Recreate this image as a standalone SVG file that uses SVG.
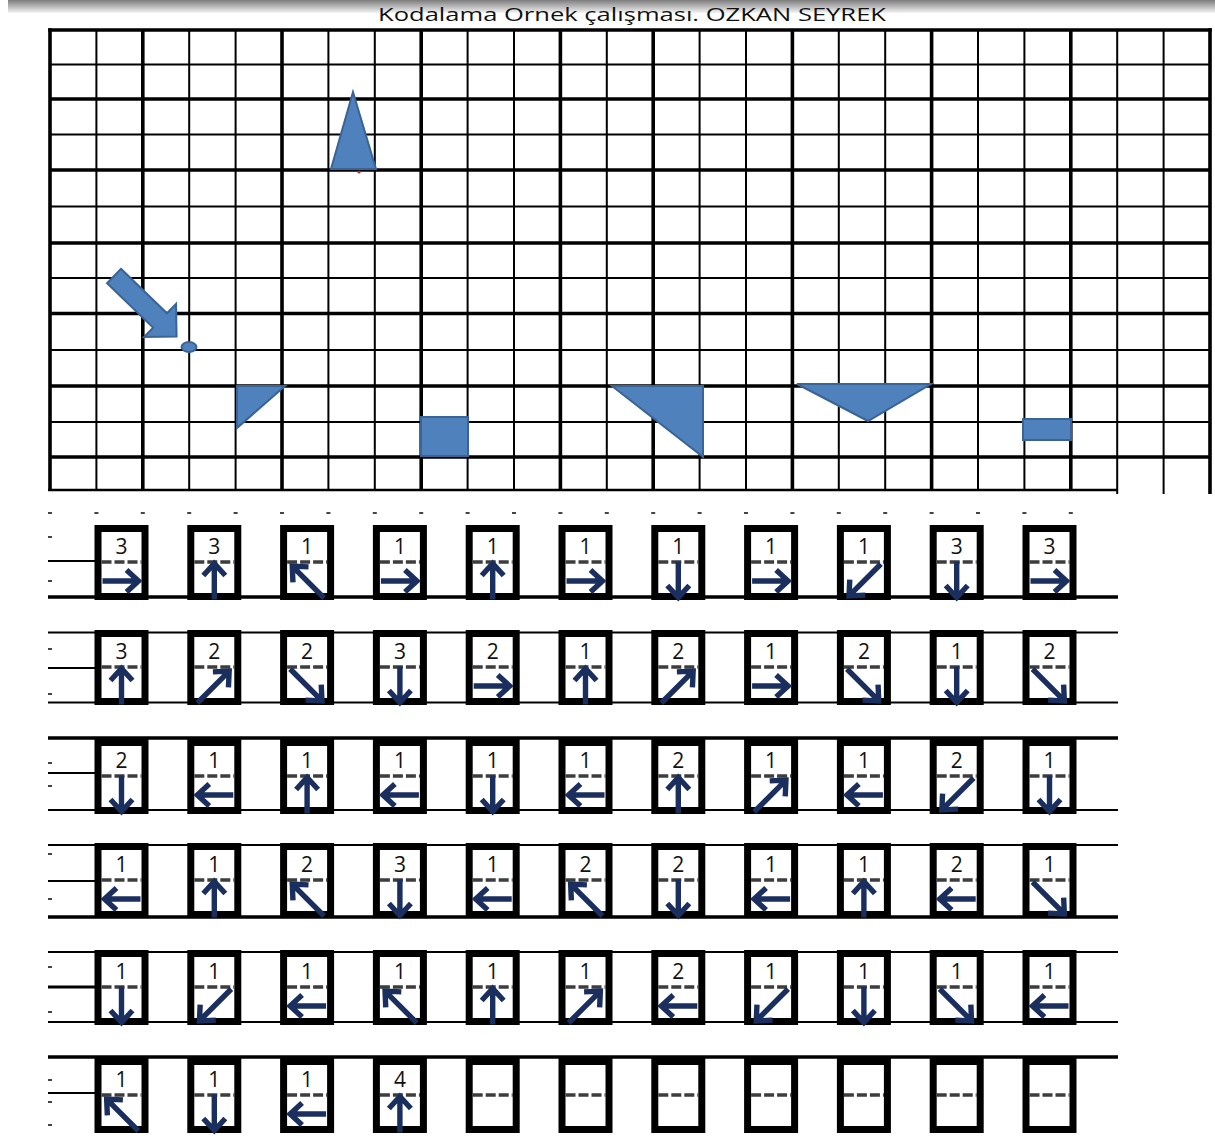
<svg xmlns="http://www.w3.org/2000/svg" xmlns:xlink="http://www.w3.org/1999/xlink" width="1215" height="1138" viewBox="0 0 1215 1138">
<style>
.thin{fill:none;stroke:#000;stroke-width:2}
.thick{fill:none;stroke:#000;stroke-width:3.6}
.shp{fill:#4f81bd;stroke:#3a6396;stroke-width:2;stroke-linejoin:miter}
.a{fill:none;stroke:#1b2f5e;stroke-width:5.4;stroke-linejoin:miter}
.n{font-family:"Open Sans","Liberation Sans",sans-serif;font-size:21px;text-anchor:middle;fill:#111}
.t{font-family:"Open Sans","Liberation Sans",sans-serif;font-size:19px;fill:#111}
.tk{fill:#444}
</style>
<defs>
<linearGradient id="bar" x1="0" y1="0" x2="0" y2="1">
<stop offset="0" stop-color="#7d7d7d"/>
<stop offset="0.5" stop-color="#b8b8b8"/>
<stop offset="1" stop-color="#f4f4f4"/>
</linearGradient>
<g id="bx"><rect x="-23.5" y="3.5" width="47" height="68" fill="#fff" stroke="#000" stroke-width="7"/><line x1="-20" y1="37" x2="20" y2="37" stroke="#3d3d3d" stroke-width="3.5" stroke-dasharray="10 3"/></g>
<path id="as" class="a" d="M-19,0H15M5,-11L17,0L5,11"/>
<path id="ad" class="a" d="M-24,0H20M9,-11L21,0L9,11"/>
</defs>
<rect width="1215" height="1138" fill="#fff"/>
<rect x="8" y="0" width="1207" height="13" fill="url(#bar)"/>
<text class="t" x="378" y="21" textLength="508" lengthAdjust="spacingAndGlyphs">Kodalama Ornek çalışması. OZKAN SEYREK</text>

<g id="grid">
<path class="thin" d="M96.4 30V490M189.2 30V490M235.6 30V490M328.4 30V490M374.8 30V490M467.6 30V490M514 30V490M606.8 30V490M699.6 30V490M746 30V490M838.8 30V490M885.2 30V490M978 30V490M1024.4 30V490M1117.2 30V494M1163.6 30V494"/>
<path class="thick" d="M50 28.2V491M142.8 30V490M282 30V490M421.2 30V490M560.4 30V490M653.2 30V490M792.4 30V490M931.6 30V490M1070.8 30V490M1210 28.2V494"/>
<path class="thin" d="M50 64.5H1210M50 134.5H1210M50 206.5H1210M50 278H1210M50 350H1210M50 422H1210"/>
<path class="thick" d="M48.2 30H1211.8M50 99H1210M50 170H1210M50 243H1210M50 313.5H1210M50 386H1210M50 457H1210"/>
<path fill="none" stroke="#000" stroke-width="2.6" d="M48.2 490H1117.2"/>
</g>

<g id="shapes">
<polygon id="tall-triangle" class="shp" points="353,92 331,169 376,169"/>
<circle cx="359" cy="172" r="1.6" fill="#b03030"/>
<g id="block-arrow" transform="translate(114,276) rotate(44)"><polygon class="shp" points="0,-10 64,-10 64,-23 87,0 64,23 64,10 0,10"/></g>
<ellipse id="dot" class="shp" cx="189" cy="347" rx="7.5" ry="5"/>
<polygon id="small-triangle" class="shp" points="237,386 285,386 237,428"/>
<rect id="square" class="shp" x="421" y="417" width="47" height="39"/>
<polygon id="big-triangle" class="shp" points="612,386 703,386 703,457"/>
<polygon id="wide-triangle" class="shp" points="797,384 931,384 868,421"/>
<rect id="small-rect" class="shp" x="1023" y="419" width="48" height="21" stroke-width="3"/>
</g>

<g id="guides">
<path class="thin" d="M48 561H96M48 668H96M48 773H96M48 881H96M48 1093H96"/>
<path fill="none" stroke="#000" stroke-width="3" d="M48 987H96"/>
<path class="thick" d="M48 597H1118M48 738H1118M48 917H1118M48 1057H1118"/>
<path class="thin" d="M48 632.5H1118M48 702.5H1118M48 810H1118M48 845H1118M48 952H1118M48 1022H1118"/>
<g class="tk">
<rect x="48" y="512" width="4" height="2"/><rect x="94.4" y="512" width="4" height="2"/><rect x="140.8" y="512" width="4" height="2"/><rect x="187.2" y="512" width="4" height="2"/><rect x="233.6" y="512" width="4" height="2"/><rect x="280" y="512" width="4" height="2"/><rect x="326.4" y="512" width="4" height="2"/><rect x="372.8" y="512" width="4" height="2"/><rect x="419.2" y="512" width="4" height="2"/><rect x="465.6" y="512" width="4" height="2"/><rect x="512" y="512" width="4" height="2"/><rect x="558.4" y="512" width="4" height="2"/><rect x="604.8" y="512" width="4" height="2"/><rect x="651.2" y="512" width="4" height="2"/><rect x="697.6" y="512" width="4" height="2"/><rect x="744" y="512" width="4" height="2"/><rect x="790.4" y="512" width="4" height="2"/><rect x="836.8" y="512" width="4" height="2"/><rect x="883.2" y="512" width="4" height="2"/><rect x="929.6" y="512" width="4" height="2"/><rect x="976" y="512" width="4" height="2"/><rect x="1022.4" y="512" width="4" height="2"/><rect x="1068.8" y="512" width="4" height="2"/>
<rect x="48" y="536" width="4" height="2"/><rect x="48" y="580" width="4" height="2"/>
<rect x="48" y="648" width="4" height="2"/><rect x="48" y="693" width="4" height="2"/>
<rect x="48" y="762" width="4" height="2"/><rect x="48" y="785" width="4" height="2"/>
<rect x="48" y="853" width="4" height="2"/><rect x="48" y="898" width="4" height="2"/>
<rect x="48" y="966" width="4" height="2"/><rect x="48" y="1011" width="4" height="2"/>
<rect x="48" y="1079" width="4" height="2"/><rect x="48" y="1101" width="4" height="2"/><rect x="48" y="1124" width="4" height="2"/>
</g>
</g>

<g id="row1">
<g id="r1b1" transform="translate(121.5,525)"><use href="#bx"/><text class="n" y="29">3</text><use href="#as" transform="translate(0,56)"/></g>
<g id="r1b2" transform="translate(214.3,525)"><use href="#bx"/><text class="n" y="29">3</text><use href="#as" transform="translate(0,55.5) rotate(-90)"/></g>
<g id="r1b3" transform="translate(307.1,525)"><use href="#bx"/><text class="n" y="29">1</text><use href="#ad" transform="translate(0,56) rotate(-135)"/></g>
<g id="r1b4" transform="translate(399.9,525)"><use href="#bx"/><text class="n" y="29">1</text><use href="#as" transform="translate(0,56)"/></g>
<g id="r1b5" transform="translate(492.7,525)"><use href="#bx"/><text class="n" y="29">1</text><use href="#as" transform="translate(0,55.5) rotate(-90)"/></g>
<g id="r1b6" transform="translate(585.5,525)"><use href="#bx"/><text class="n" y="29">1</text><use href="#as" transform="translate(0,56)"/></g>
<g id="r1b7" transform="translate(678.3,525)"><use href="#bx"/><text class="n" y="29">1</text><use href="#as" transform="translate(0,55.5) rotate(90)"/></g>
<g id="r1b8" transform="translate(771.1,525)"><use href="#bx"/><text class="n" y="29">1</text><use href="#as" transform="translate(0,56)"/></g>
<g id="r1b9" transform="translate(863.9,525)"><use href="#bx"/><text class="n" y="29">1</text><use href="#ad" transform="translate(0,56) rotate(135)"/></g>
<g id="r1b10" transform="translate(956.7,525)"><use href="#bx"/><text class="n" y="29">3</text><use href="#as" transform="translate(0,55.5) rotate(90)"/></g>
<g id="r1b11" transform="translate(1049.5,525)"><use href="#bx"/><text class="n" y="29">3</text><use href="#as" transform="translate(0,56)"/></g>
</g>

<g id="row2">
<g id="r2b1" transform="translate(121.5,630)"><use href="#bx"/><text class="n" y="29">3</text><use href="#as" transform="translate(0,55.5) rotate(-90)"/></g>
<g id="r2b2" transform="translate(214.3,630)"><use href="#bx"/><text class="n" y="29">2</text><use href="#ad" transform="translate(0,56) rotate(-45)"/></g>
<g id="r2b3" transform="translate(307.1,630)"><use href="#bx"/><text class="n" y="29">2</text><use href="#ad" transform="translate(0,56) rotate(45)"/></g>
<g id="r2b4" transform="translate(399.9,630)"><use href="#bx"/><text class="n" y="29">3</text><use href="#as" transform="translate(0,55.5) rotate(90)"/></g>
<g id="r2b5" transform="translate(492.7,630)"><use href="#bx"/><text class="n" y="29">2</text><use href="#as" transform="translate(0,56)"/></g>
<g id="r2b6" transform="translate(585.5,630)"><use href="#bx"/><text class="n" y="29">1</text><use href="#as" transform="translate(0,55.5) rotate(-90)"/></g>
<g id="r2b7" transform="translate(678.3,630)"><use href="#bx"/><text class="n" y="29">2</text><use href="#ad" transform="translate(0,56) rotate(-45)"/></g>
<g id="r2b8" transform="translate(771.1,630)"><use href="#bx"/><text class="n" y="29">1</text><use href="#as" transform="translate(0,56)"/></g>
<g id="r2b9" transform="translate(863.9,630)"><use href="#bx"/><text class="n" y="29">2</text><use href="#ad" transform="translate(0,56) rotate(45)"/></g>
<g id="r2b10" transform="translate(956.7,630)"><use href="#bx"/><text class="n" y="29">1</text><use href="#as" transform="translate(0,55.5) rotate(90)"/></g>
<g id="r2b11" transform="translate(1049.5,630)"><use href="#bx"/><text class="n" y="29">2</text><use href="#ad" transform="translate(0,56) rotate(45)"/></g>
</g>

<g id="row3">
<g id="r3b1" transform="translate(121.5,739)"><use href="#bx"/><text class="n" y="29">2</text><use href="#as" transform="translate(0,55.5) rotate(90)"/></g>
<g id="r3b2" transform="translate(214.3,739)"><use href="#bx"/><text class="n" y="29">1</text><use href="#as" transform="translate(0,56) rotate(180)"/></g>
<g id="r3b3" transform="translate(307.1,739)"><use href="#bx"/><text class="n" y="29">1</text><use href="#as" transform="translate(0,55.5) rotate(-90)"/></g>
<g id="r3b4" transform="translate(399.9,739)"><use href="#bx"/><text class="n" y="29">1</text><use href="#as" transform="translate(0,56) rotate(180)"/></g>
<g id="r3b5" transform="translate(492.7,739)"><use href="#bx"/><text class="n" y="29">1</text><use href="#as" transform="translate(0,55.5) rotate(90)"/></g>
<g id="r3b6" transform="translate(585.5,739)"><use href="#bx"/><text class="n" y="29">1</text><use href="#as" transform="translate(0,56) rotate(180)"/></g>
<g id="r3b7" transform="translate(678.3,739)"><use href="#bx"/><text class="n" y="29">2</text><use href="#as" transform="translate(0,55.5) rotate(-90)"/></g>
<g id="r3b8" transform="translate(771.1,739)"><use href="#bx"/><text class="n" y="29">1</text><use href="#ad" transform="translate(0,56) rotate(-45)"/></g>
<g id="r3b9" transform="translate(863.9,739)"><use href="#bx"/><text class="n" y="29">1</text><use href="#as" transform="translate(0,56) rotate(180)"/></g>
<g id="r3b10" transform="translate(956.7,739)"><use href="#bx"/><text class="n" y="29">2</text><use href="#ad" transform="translate(0,56) rotate(135)"/></g>
<g id="r3b11" transform="translate(1049.5,739)"><use href="#bx"/><text class="n" y="29">1</text><use href="#as" transform="translate(0,55.5) rotate(90)"/></g>
</g>

<g id="row4">
<g id="r4b1" transform="translate(121.5,843)"><use href="#bx"/><text class="n" y="29">1</text><use href="#as" transform="translate(0,56) rotate(180)"/></g>
<g id="r4b2" transform="translate(214.3,843)"><use href="#bx"/><text class="n" y="29">1</text><use href="#as" transform="translate(0,55.5) rotate(-90)"/></g>
<g id="r4b3" transform="translate(307.1,843)"><use href="#bx"/><text class="n" y="29">2</text><use href="#ad" transform="translate(0,56) rotate(-135)"/></g>
<g id="r4b4" transform="translate(399.9,843)"><use href="#bx"/><text class="n" y="29">3</text><use href="#as" transform="translate(0,55.5) rotate(90)"/></g>
<g id="r4b5" transform="translate(492.7,843)"><use href="#bx"/><text class="n" y="29">1</text><use href="#as" transform="translate(0,56) rotate(180)"/></g>
<g id="r4b6" transform="translate(585.5,843)"><use href="#bx"/><text class="n" y="29">2</text><use href="#ad" transform="translate(0,56) rotate(-135)"/></g>
<g id="r4b7" transform="translate(678.3,843)"><use href="#bx"/><text class="n" y="29">2</text><use href="#as" transform="translate(0,55.5) rotate(90)"/></g>
<g id="r4b8" transform="translate(771.1,843)"><use href="#bx"/><text class="n" y="29">1</text><use href="#as" transform="translate(0,56) rotate(180)"/></g>
<g id="r4b9" transform="translate(863.9,843)"><use href="#bx"/><text class="n" y="29">1</text><use href="#as" transform="translate(0,55.5) rotate(-90)"/></g>
<g id="r4b10" transform="translate(956.7,843)"><use href="#bx"/><text class="n" y="29">2</text><use href="#as" transform="translate(0,56) rotate(180)"/></g>
<g id="r4b11" transform="translate(1049.5,843)"><use href="#bx"/><text class="n" y="29">1</text><use href="#ad" transform="translate(0,56) rotate(45)"/></g>
</g>

<g id="row5">
<g id="r5b1" transform="translate(121.5,950)"><use href="#bx"/><text class="n" y="29">1</text><use href="#as" transform="translate(0,55.5) rotate(90)"/></g>
<g id="r5b2" transform="translate(214.3,950)"><use href="#bx"/><text class="n" y="29">1</text><use href="#ad" transform="translate(0,56) rotate(135)"/></g>
<g id="r5b3" transform="translate(307.1,950)"><use href="#bx"/><text class="n" y="29">1</text><use href="#as" transform="translate(0,56) rotate(180)"/></g>
<g id="r5b4" transform="translate(399.9,950)"><use href="#bx"/><text class="n" y="29">1</text><use href="#ad" transform="translate(0,56) rotate(-135)"/></g>
<g id="r5b5" transform="translate(492.7,950)"><use href="#bx"/><text class="n" y="29">1</text><use href="#as" transform="translate(0,55.5) rotate(-90)"/></g>
<g id="r5b6" transform="translate(585.5,950)"><use href="#bx"/><text class="n" y="29">1</text><use href="#ad" transform="translate(0,56) rotate(-45)"/></g>
<g id="r5b7" transform="translate(678.3,950)"><use href="#bx"/><text class="n" y="29">2</text><use href="#as" transform="translate(0,56) rotate(180)"/></g>
<g id="r5b8" transform="translate(771.1,950)"><use href="#bx"/><text class="n" y="29">1</text><use href="#ad" transform="translate(0,56) rotate(135)"/></g>
<g id="r5b9" transform="translate(863.9,950)"><use href="#bx"/><text class="n" y="29">1</text><use href="#as" transform="translate(0,55.5) rotate(90)"/></g>
<g id="r5b10" transform="translate(956.7,950)"><use href="#bx"/><text class="n" y="29">1</text><use href="#ad" transform="translate(0,56) rotate(45)"/></g>
<g id="r5b11" transform="translate(1049.5,950)"><use href="#bx"/><text class="n" y="29">1</text><use href="#as" transform="translate(0,56) rotate(180)"/></g>
</g>

<g id="row6">
<g id="r6b1" transform="translate(121.5,1058)"><use href="#bx"/><text class="n" y="29">1</text><use href="#ad" transform="translate(0,56) rotate(-135)"/></g>
<g id="r6b2" transform="translate(214.3,1058)"><use href="#bx"/><text class="n" y="29">1</text><use href="#as" transform="translate(0,55.5) rotate(90)"/></g>
<g id="r6b3" transform="translate(307.1,1058)"><use href="#bx"/><text class="n" y="29">1</text><use href="#as" transform="translate(0,56) rotate(180)"/></g>
<g id="r6b4" transform="translate(399.9,1058)"><use href="#bx"/><text class="n" y="29">4</text><use href="#as" transform="translate(0,55.5) rotate(-90)"/></g>
<g id="r6b5" transform="translate(492.7,1058)"><use href="#bx"/></g>
<g id="r6b6" transform="translate(585.5,1058)"><use href="#bx"/></g>
<g id="r6b7" transform="translate(678.3,1058)"><use href="#bx"/></g>
<g id="r6b8" transform="translate(771.1,1058)"><use href="#bx"/></g>
<g id="r6b9" transform="translate(863.9,1058)"><use href="#bx"/></g>
<g id="r6b10" transform="translate(956.7,1058)"><use href="#bx"/></g>
<g id="r6b11" transform="translate(1049.5,1058)"><use href="#bx"/></g>
</g>
</svg>
